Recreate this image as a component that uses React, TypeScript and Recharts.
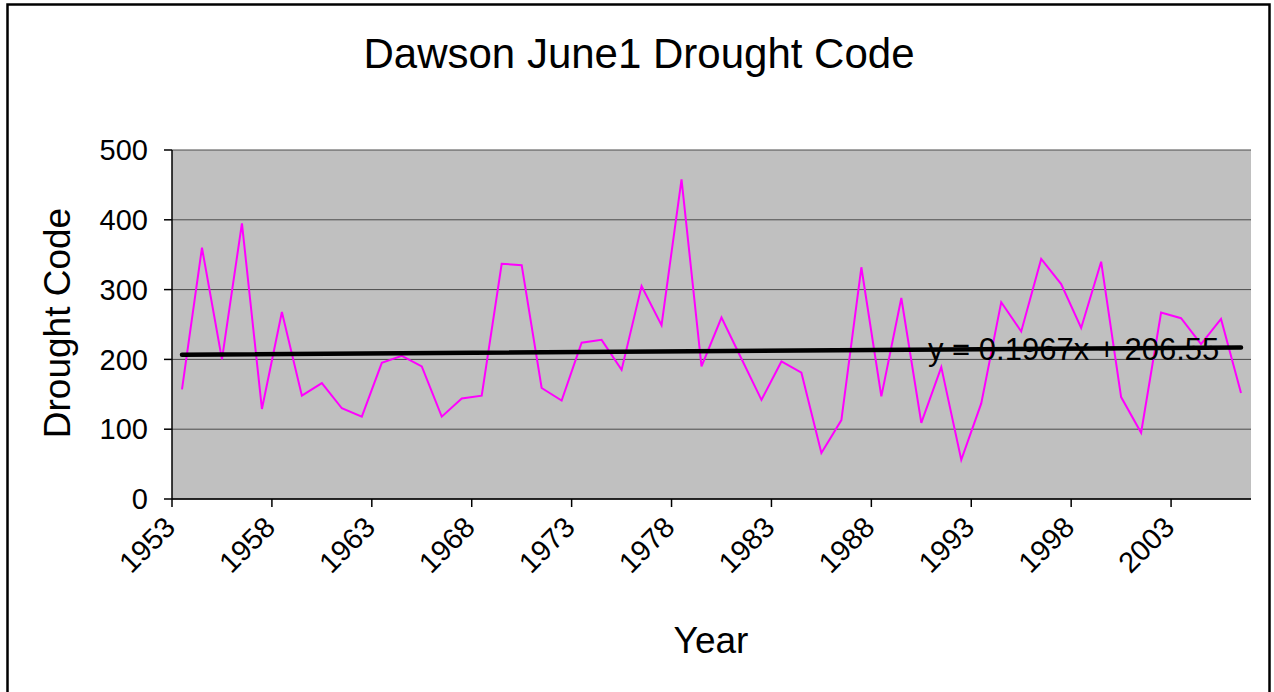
import {
  CartesianGrid,
  Line,
  LineChart,
  ReferenceLine,
  XAxis,
  YAxis,
} from "recharts";

const years = [
  1953, 1954, 1955, 1956, 1957, 1958, 1959, 1960, 1961, 1962, 1963, 1964,
  1965, 1966, 1967, 1968, 1969, 1970, 1971, 1972, 1973, 1974, 1975, 1976,
  1977, 1978, 1979, 1980, 1981, 1982, 1983, 1984, 1985, 1986, 1987, 1988,
  1989, 1990, 1991, 1992, 1993, 1994, 1995, 1996, 1997, 1998, 1999, 2000,
  2001, 2002, 2003, 2004, 2005, 2006,
];

const droughtCode = [
  157, 360, 200, 395, 129, 268, 148, 166, 130, 118, 195, 205, 190, 118, 144,
  148, 337, 335, 159, 141, 224, 228, 185, 305, 249, 458, 190, 260, 201, 142,
  197, 181, 66, 113, 332, 147, 288, 109, 189, 56, 137, 282, 240, 344, 308,
  245, 340, 146, 95, 267, 259, 222, 258, 152,
];

const yTicks = [0, 100, 200, 300, 400, 500];

// Excel linear trendline, x = 1..n
const trendSlope = 0.1967;
const trendIntercept = 206.55;

const chartTitle = "Dawson June1 Drought Code";
const xTitle = "Year";
const yTitle = "Drought Code";
const trendLabel = "y = 0.1967x + 206.55";

const data = years.map((year, i) => ({ year, dc: droughtCode[i] }));

const W = 1274;
const H = 692;
const PLOT_LEFT = 172;
const PLOT_RIGHT = 1251;
const PLOT_TOP = 150;
const PLOT_BOTTOM = 499;
const Y_AXIS_W = 60;
const X_AXIS_H = 60;
const BAND = (PLOT_RIGHT - PLOT_LEFT) / years.length;
const FONT = "'Liberation Sans', Arial, Helvetica, sans-serif";
const TICK_SIZE = 8;

const XTick = (props: any) => {
  const { x, y, payload } = props;
  const bx = x - BAND / 2;
  const tx = x - 5;
  const ty = y + 22;
  return (
    <g>
      <line x1={bx} x2={bx} y1={y - TICK_SIZE} y2={y} stroke="#000" strokeWidth={1.5} />
      <text
        x={tx}
        y={ty}
        transform={`rotate(-45, ${tx}, ${ty})`}
        textAnchor="end"
        fontSize={29}
        fontFamily={FONT}
        fill="#000"
      >
        {payload.value}
      </text>
    </g>
  );
};

export default function App() {
  const n = years.length;
  return (
    <div
      style={{
        position: "absolute",
        left: 0,
        top: 0,
        width: W,
        height: H,
        background: "#fff",
        overflow: "hidden",
      }}
    >
      <LineChart
        width={W}
        height={H}
        data={data}
        margin={{
          top: PLOT_TOP,
          right: W - PLOT_RIGHT,
          bottom: H - PLOT_BOTTOM - X_AXIS_H,
          left: PLOT_LEFT - Y_AXIS_W,
        }}
      >
        <CartesianGrid vertical={false} stroke="#4a4a4a" fill="#C0C0C0" fillOpacity={1} />
        <XAxis
          dataKey="year"
          interval={4}
          height={X_AXIS_H}
          padding={{ left: BAND / 2, right: BAND / 2 }}
          tickLine={false}
          tickSize={TICK_SIZE}
          tickMargin={0}
          tick={<XTick />}
          axisLine={{ stroke: "#000", strokeWidth: 1.5 }}
        />
        <XAxis
          xAxisId="top"
          orientation="top"
          dataKey="year"
          height={0}
          tick={false}
          tickLine={false}
          axisLine={{ stroke: "#808080", strokeWidth: 2.5 }}
        />
        <YAxis
          domain={[0, 500]}
          ticks={yTicks}
          width={Y_AXIS_W}
          tickSize={TICK_SIZE}
          tickMargin={16}
          tickLine={{ stroke: "#000", strokeWidth: 1.5 }}
          axisLine={{ stroke: "#000", strokeWidth: 1.5 }}
          tick={{ fill: "#000", fontSize: 29, fontFamily: FONT }}
        />
        <YAxis
          yAxisId="right"
          orientation="right"
          domain={[0, 500]}
          width={0}
          tick={false}
          tickLine={false}
          axisLine={{ stroke: "#808080", strokeWidth: 2.5 }}
        />
        <Line
          type="linear"
          dataKey="dc"
          stroke="#FF00FF"
          strokeWidth={2}
          dot={false}
          activeDot={false}
          isAnimationActive={false}
        />
        <ReferenceLine
          segment={[
            { x: years[0], y: trendIntercept + trendSlope * 1 },
            { x: years[n - 1], y: trendIntercept + trendSlope * n },
          ]}
          stroke="#000"
          strokeWidth={4.5}
          strokeLinecap="round"
        />
      </LineChart>
      <svg
        width={W}
        height={H}
        style={{ position: "absolute", left: 0, top: 0, pointerEvents: "none" }}
        fontFamily={FONT}
      >
        <rect x={7.5} y={4.5} width={1262} height={700} fill="none" stroke="#000" strokeWidth={2.5} />
        <text x={639} y={68} textAnchor="middle" fontSize={42} fill="#000">
          {chartTitle}
        </text>
        <text x={711} y={653} textAnchor="middle" fontSize={37} fill="#000">
          {xTitle}
        </text>
        <text
          x={70}
          y={323}
          textAnchor="middle"
          fontSize={37}
          fill="#000"
          transform="rotate(-90, 70, 323)"
        >
          {yTitle}
        </text>
        <text x={928} y={360} fontSize={31} fill="#000">
          {trendLabel}
        </text>
      </svg>
    </div>
  );
}
